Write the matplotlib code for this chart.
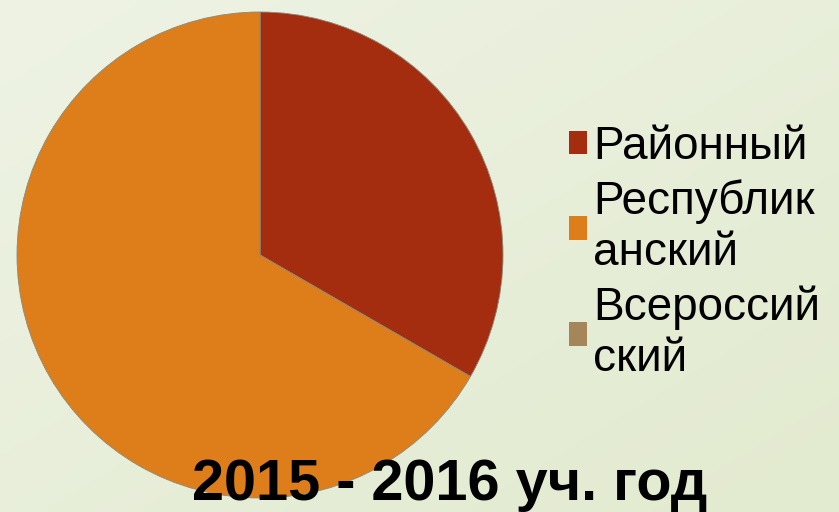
import numpy as np
import matplotlib
matplotlib.use("Agg")
import matplotlib.pyplot as plt
from matplotlib.patches import Patch

categories = ["Районный", "Республиканский", "Всероссийский"]
legend_labels = ["Районный", "Республик\nанский", "Всероссий\nский"]
values = [1, 2, 0]
colors = ["#A52D0F", "#DD7E1B", "#A5865A"]
title = "2015 - 2016 уч. год"

plt.rcParams['font.family'] = ['Liberation Sans', 'DejaVu Sans']

W, H = 839, 512
fig = plt.figure(figsize=(W / 100, H / 100), dpi=100)

# background gradient
bg = fig.add_axes([0, 0, 1, 1], zorder=0)
xx, yy = np.meshgrid(np.linspace(0, 1, 200), np.linspace(0, 1, 200))
t = (xx + yy) / 2
c0 = np.array([0xEE, 0xF3, 0xE4]) / 255
c1 = np.array([0xE2, 0xEA, 0xCF]) / 255
img = c0[None, None, :] * (1 - t[..., None]) + c1[None, None, :] * t[..., None]
bg.imshow(img, extent=[0, 1, 0, 1], aspect='auto', origin='upper')
bg.axis('off')

# pie
cx, cy, r = 260, 255, 243
ax = fig.add_axes([(cx - r) / W, (H - cy - r) / H, 2 * r / W, 2 * r / H], zorder=1)
ax.pie(values, colors=colors, startangle=90, counterclock=False,
       wedgeprops=dict(edgecolor='#8a8a7a', linewidth=0.6))
ax.set_xlim(-1, 1)
ax.set_ylim(-1, 1)
ax.set_aspect('auto')
ax.axis('off')

handles = [Patch(facecolor=c, edgecolor='none') for c in colors]
leg = fig.legend(handles, legend_labels, loc='upper left',
                 bbox_to_anchor=(569 / W, 1 - 125 / H),
                 frameon=False, fontsize=33, handlelength=0.4, handleheight=0.4,
                 handletextpad=0.12, labelspacing=0.23, borderpad=0, borderaxespad=0)
for txt in leg.get_texts():
    txt.set_linespacing(1.2)

fig.text(450 / W, 1 - 500 / H, title, ha='center', va='baseline',
         fontsize=41.5, fontweight='bold', color='black', zorder=5)

fig.savefig("out.png", dpi=100)
